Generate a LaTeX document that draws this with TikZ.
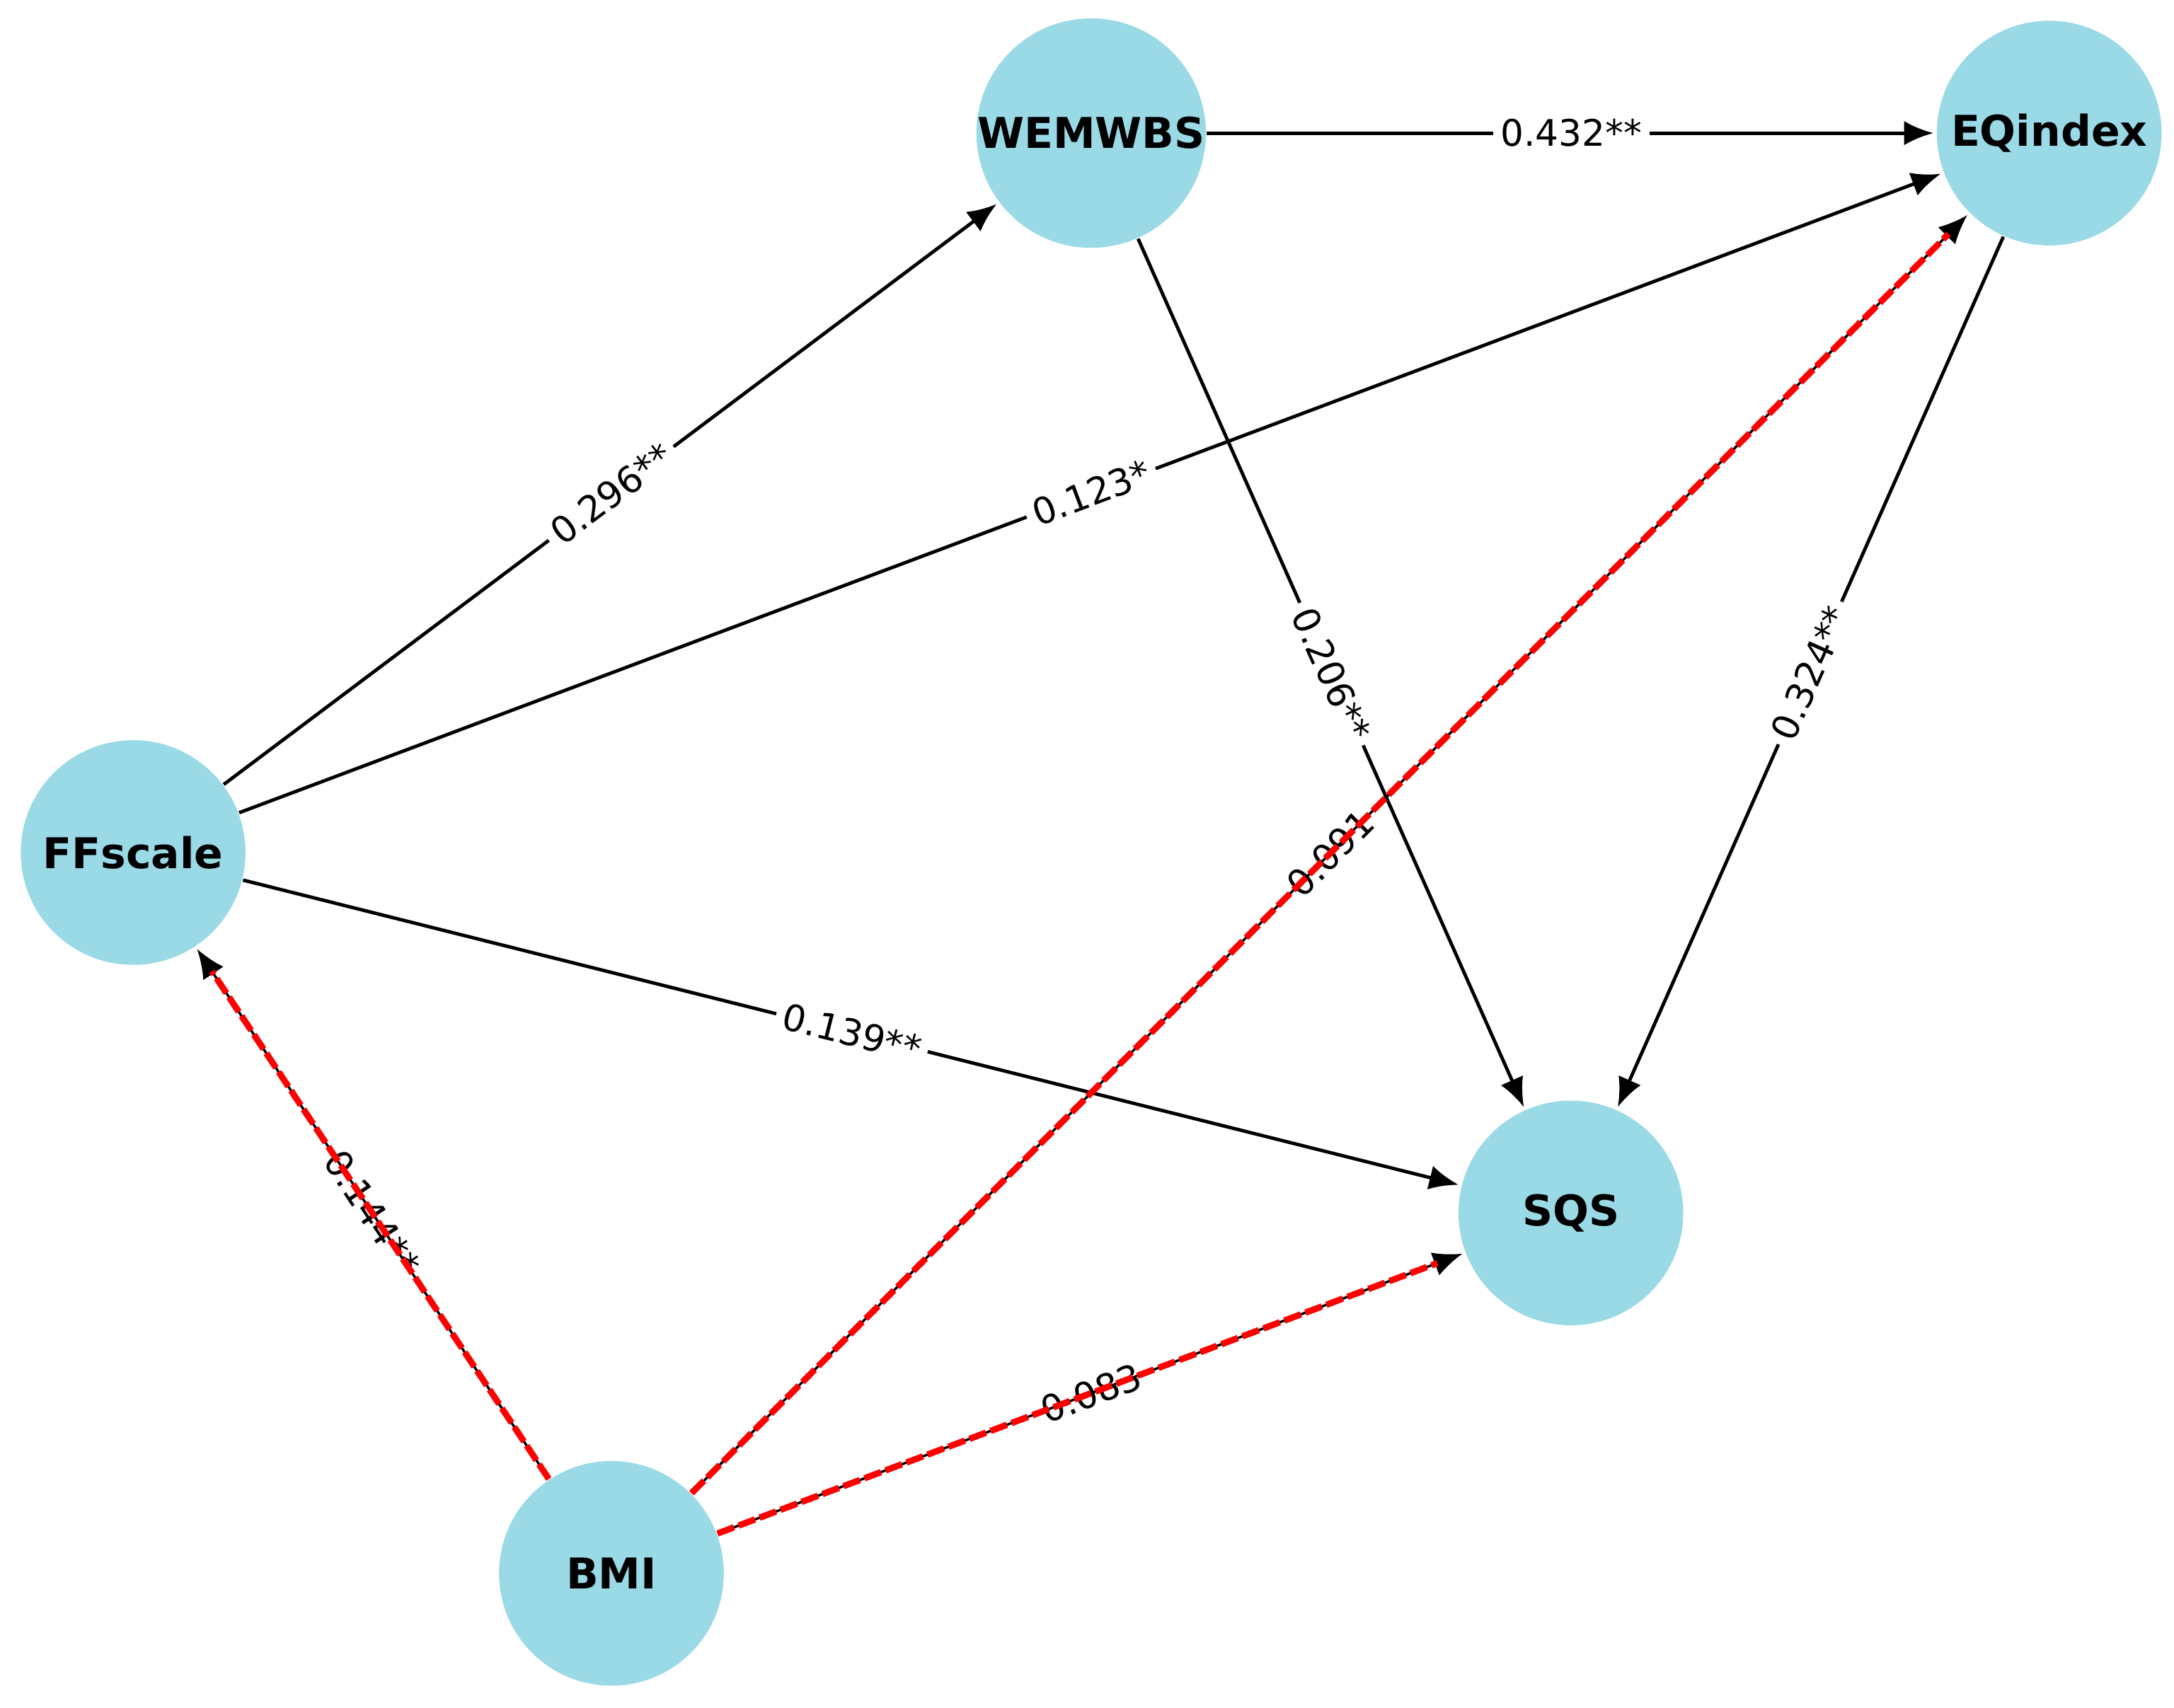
\documentclass[tikz,border=0pt]{standalone}
\usepackage{fontspec}
\setmainfont{DejaVu Sans}
\usetikzlibrary{arrows.meta}
\definecolor{nodeblue}{RGB}{154,217,230}
\begin{document}
\begin{tikzpicture}[x=0.01cm,y=-0.01cm,
  nd/.style={circle,fill=nodeblue,minimum size=1.62cm,inner sep=0pt,font=\fontsize{8.7}{10}\selectfont\bfseries},
  edge/.style={draw=black,line width=0.7pt,-{Latex[length=6pt,width=5pt]},shorten >=0.5pt},
  lbl/.style={sloped,fill=white,inner sep=1.5pt,font=\fontsize{7.5}{9}\selectfont},
  lblr/.style={sloped,inner sep=1pt,font=\fontsize{7.5}{9}\selectfont},
  red/.style={draw=red,line width=1.3pt,dash pattern=on 3.6pt off 1pt}]
\useasboundingbox (0,0) rectangle (1568,1232);
\node[nd] (W) at (787,96) {WEMWBS};
\node[nd] (E) at (1478,96) {EQindex};
\node[nd] (F) at (96,615) {FFscale};
\node[nd] (S) at (1133,875) {SQS};
\node[nd] (B) at (441,1135) {BMI};
\draw[edge] (F) -- node[lbl]{0.296**} (W);
\draw[edge] (F) -- node[lbl]{0.123*} (E);
\draw[edge] (F) -- node[lbl]{0.139**} (S);
\draw[edge] (W) -- node[lbl]{0.432**} (E);
\draw[edge] (W) -- node[lbl]{0.206**} (S);
\draw[edge] (E) -- node[lbl]{0.324**} (S);
\draw[edge,line width=0.5pt] (B) -- node[lblr]{0.144**} (F);
\draw[edge,line width=0.5pt] (B) -- node[lblr]{0.091} (E);
\draw[edge,line width=0.5pt] (B) -- node[lblr]{0.083} (S);
\draw[red,shorten >=6pt] (B) -- (F);
\draw[red,shorten >=6pt] (B) -- (E);
\draw[red,shorten >=6pt] (B) -- (S);
\end{tikzpicture}
\end{document}
